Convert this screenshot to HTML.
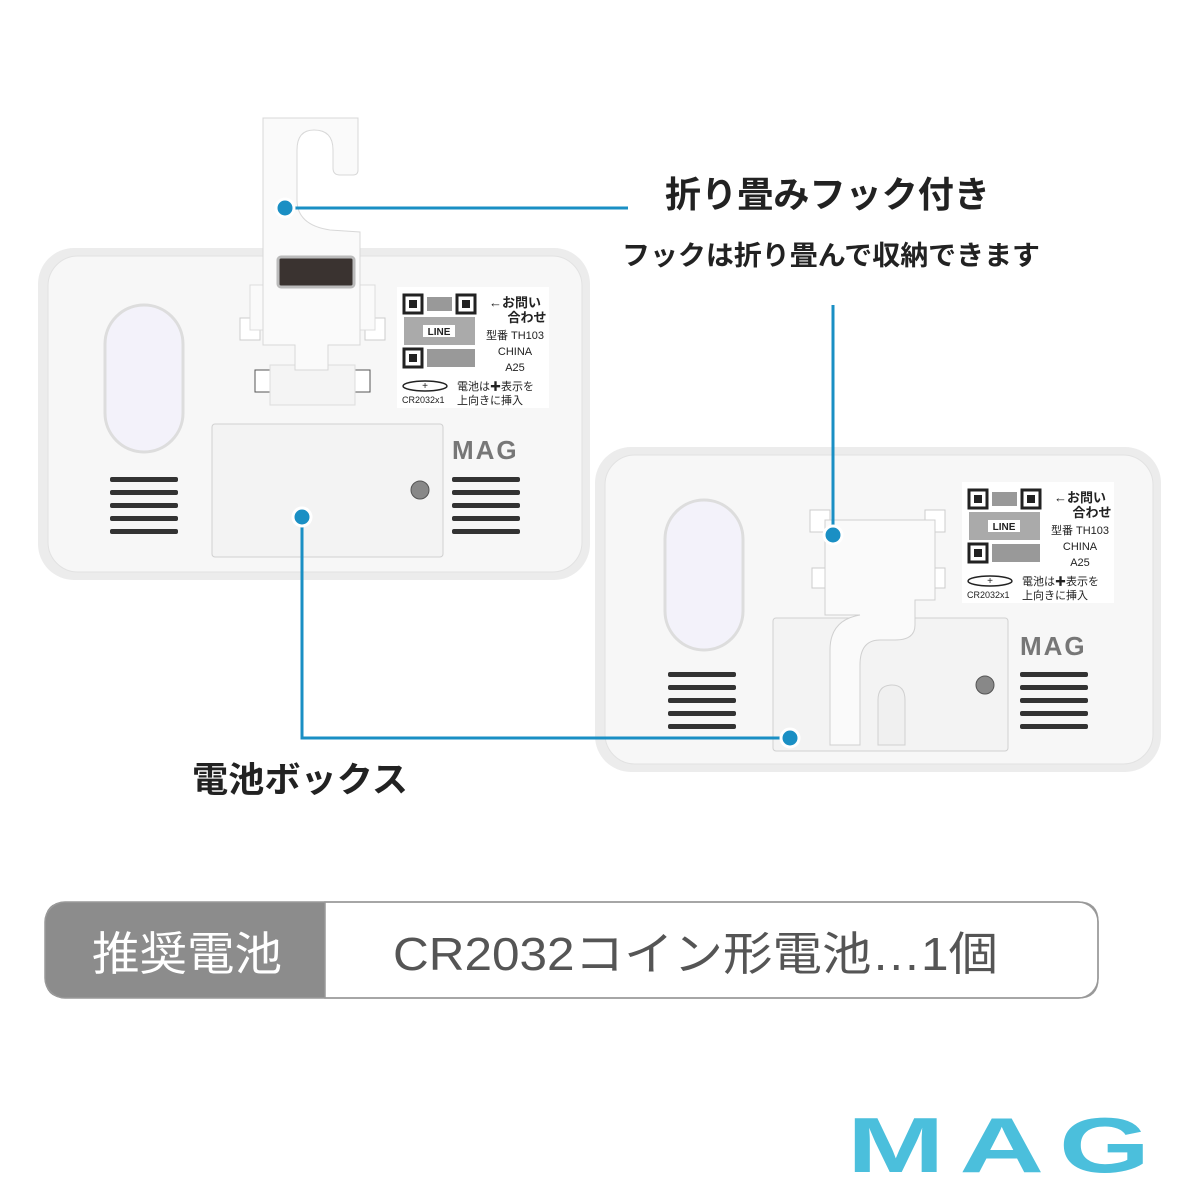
<!DOCTYPE html>
<html><head><meta charset="utf-8"><style>
html,body{margin:0;padding:0;background:#fff;width:1200px;height:1200px;overflow:hidden}
svg{display:block}
text{font-family:"Liberation Sans","Noto Sans CJK JP",sans-serif}
</style></head><body>
<svg width="1200" height="1200" viewBox="0 0 1200 1200">
<defs>
<g id="label">
<rect x="0" y="0" width="152" height="121" fill="#fff"/>
<g fill="#222">
<rect x="7" y="8" width="18" height="18" fill="none" stroke="#222" stroke-width="3"/><rect x="12" y="13" width="8" height="8"/>
<rect x="60" y="8" width="18" height="18" fill="none" stroke="#222" stroke-width="3"/><rect x="65" y="13" width="8" height="8"/>
<rect x="7" y="62" width="18" height="18" fill="none" stroke="#222" stroke-width="3"/><rect x="12" y="67" width="8" height="8"/>
<rect x="30" y="10" width="25" height="14" fill="#999"/><rect x="7" y="30" width="71" height="28" fill="#aaa"/><rect x="30" y="62" width="48" height="18" fill="#999"/>
<rect x="26" y="38" width="32" height="12" fill="#fff"/>
</g>
<text x="42" y="48" font-size="10" font-weight="bold" text-anchor="middle" fill="#222">LINE</text>
<text x="118" y="20" font-size="13" font-weight="bold" text-anchor="middle" fill="#222">←お問い</text>
<text x="130" y="35" font-size="13" font-weight="bold" text-anchor="middle" fill="#222">合わせ</text>
<text x="118" y="52" font-size="11" text-anchor="middle" fill="#222">型番 TH103</text>
<text x="118" y="68" font-size="11" text-anchor="middle" fill="#222">CHINA</text>
<text x="118" y="84" font-size="11" text-anchor="middle" fill="#222">A25</text>
<ellipse cx="28" cy="99" rx="22" ry="5" fill="none" stroke="#222" stroke-width="1.5"/>
<text x="28" y="102" font-size="10" text-anchor="middle" fill="#222">+</text>
<text x="5" y="116" font-size="9" fill="#222">CR2032x1</text>
<text x="60" y="103" font-size="11" fill="#222">電池は✚表示を</text>
<text x="60" y="117" font-size="11" fill="#222">上向きに挿入</text>
</g>
<g id="slits" fill="#333">
<rect x="0" y="0" width="68" height="5" rx="2"/><rect x="0" y="13" width="68" height="5" rx="2"/><rect x="0" y="26" width="68" height="5" rx="2"/><rect x="0" y="39" width="68" height="5" rx="2"/><rect x="0" y="52" width="68" height="5" rx="2"/>
</g>
</defs>

<!-- Left device -->
<rect x="38" y="248" width="552" height="332" rx="36" fill="#ececec"/>
<rect x="48" y="256" width="534" height="316" rx="30" fill="#f7f7f7" stroke="#e2e2e2"/>
<rect x="105" y="305" width="78" height="147" rx="39" fill="#f3f2fa" stroke="#ddd" stroke-width="3"/>
<rect x="212" y="424" width="231" height="133" rx="3" fill="#f3f3f3" stroke="#d0d0d0"/>
<circle cx="420" cy="490" r="9" fill="#888" stroke="#555"/>
<use href="#slits" x="110" y="477"/>
<use href="#slits" x="452" y="477"/>
<text x="452" y="459" font-size="26" font-weight="bold" fill="#777" letter-spacing="2">MAG</text>
<use href="#label" x="397" y="287"/>
<rect x="240" y="318" width="20" height="22" fill="#fff" stroke="#ccc"/>
<rect x="365" y="318" width="20" height="22" fill="#fff" stroke="#ccc"/>
<rect x="255" y="370" width="15" height="22" fill="#fff" stroke="#555"/>
<rect x="355" y="370" width="15" height="22" fill="#fff" stroke="#555"/>
<rect x="270" y="365" width="85" height="40" fill="#f4f4f4" stroke="#ddd"/>
<rect x="250" y="285" width="125" height="45" fill="#fafafa" stroke="#ddd"/>
<path d="M263 118 L358 118 L358 170 Q358 175 353 175 L340 175 Q333 175 333 168 L333 150 Q333 130 314 130 Q297 130 297 150 L297 200 Q297 225 330 230 L360 232 L360 345 L328 345 L328 370 L295 370 L295 345 L263 345 Z" fill="#fafafa" stroke="#d8d8d8"/>
<rect x="278" y="257" width="76" height="30" rx="3" fill="#3a3330" stroke="#bbb" stroke-width="3"/>

<!-- Right device -->
<rect x="595" y="447" width="566" height="325" rx="36" fill="#ececec"/>
<rect x="605" y="455" width="548" height="309" rx="30" fill="#f7f7f7" stroke="#e2e2e2"/>
<rect x="665" y="500" width="78" height="150" rx="39" fill="#f3f2fa" stroke="#ddd" stroke-width="3"/>
<rect x="773" y="618" width="235" height="133" rx="3" fill="#f3f3f3" stroke="#d0d0d0"/>
<circle cx="985" cy="685" r="9" fill="#888" stroke="#555"/>
<use href="#slits" x="668" y="672"/>
<use href="#slits" x="1020" y="672"/>
<text x="1020" y="655" font-size="26" font-weight="bold" fill="#777" letter-spacing="2">MAG</text>
<use href="#label" x="962" y="482"/>
<rect x="810" y="510" width="20" height="22" fill="#fff" stroke="#ccc"/>
<rect x="925" y="510" width="20" height="22" fill="#fff" stroke="#ccc"/>
<rect x="812" y="568" width="20" height="20" fill="#fff" stroke="#ccc"/>
<rect x="925" y="568" width="20" height="20" fill="#fff" stroke="#ccc"/>
<path d="M825 520 L935 520 L935 600 L915 600 L915 625 Q915 640 895 640 L880 640 Q860 640 860 665 L860 745 L830 745 L830 650 Q830 620 860 615 L825 615 Z" fill="#fafafa" stroke="#d0d0d0"/>
<path d="M878 745 L878 700 Q878 685 892 685 Q905 685 905 700 L905 745 Z" fill="#f0f0f0" stroke="#d0d0d0"/>

<!-- callouts -->
<g stroke="#1a8fc4" stroke-width="3" fill="none">
<line x1="285" y1="208" x2="628" y2="208"/>
<line x1="833" y1="305" x2="833" y2="535"/>
<polyline points="302,517 302,738 790,738"/>
</g>
<g fill="#1a8fc4" stroke="#fff" stroke-width="3">
<circle cx="285" cy="208" r="9"/><circle cx="833" cy="535" r="9"/><circle cx="302" cy="517" r="9"/><circle cx="790" cy="738" r="9"/>
</g>
<text x="665" y="207" font-size="36" font-weight="bold" fill="#222" textLength="325" lengthAdjust="spacingAndGlyphs">折り畳みフック付き</text>
<text x="622" y="265" font-size="27" font-weight="bold" fill="#222" textLength="418" lengthAdjust="spacingAndGlyphs">フックは折り畳んで収納できます</text>
<text x="192" y="792" font-size="35" font-weight="bold" fill="#222" textLength="216" lengthAdjust="spacingAndGlyphs">電池ボックス</text>

<!-- table -->
<path d="M65 902 L325 902 L325 998 L65 998 Q45 998 45 978 L45 922 Q45 902 65 902 Z" fill="#8c8c8c"/>
<path d="M325 902 L1078 902 Q1098 902 1098 922 L1098 978 Q1098 998 1078 998 L325 998 Z" fill="#fff" stroke="#999" stroke-width="1.5"/>
<rect x="45" y="902" width="1053" height="96" rx="20" fill="none" stroke="#999" stroke-width="1.5"/>
<text x="92" y="970" font-size="46" fill="#fff" textLength="190" lengthAdjust="spacingAndGlyphs">推奨電池</text>
<text x="393" y="970" font-size="46" fill="#555" textLength="605" lengthAdjust="spacingAndGlyphs">CR2032コイン形電池…1個</text>

<!-- MAG logo -->
<text x="1006" y="1172" font-size="78" font-weight="bold" fill="#4bbfdc" text-anchor="middle" letter-spacing="10" textLength="318" lengthAdjust="spacingAndGlyphs">MAG</text>
</svg>
</body></html>
